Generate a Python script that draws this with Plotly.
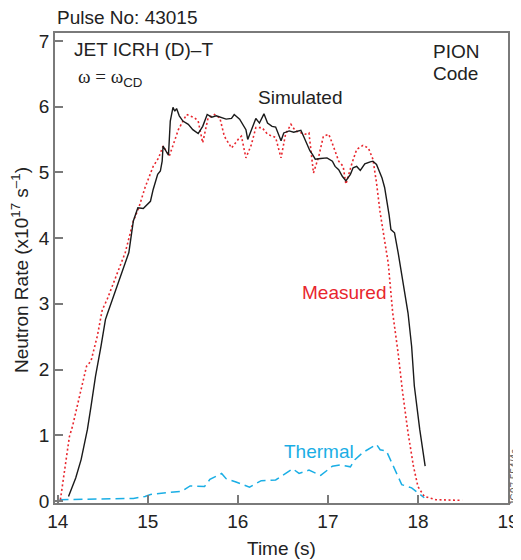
import plotly.graph_objects as go

# ---- data ----
t_sim = [14.12, 14.20, 14.26, 14.33, 14.37, 14.42, 14.48, 14.53, 14.55, 14.61, 14.68, 14.79, 14.84, 14.89,
         14.95, 15.03, 15.06, 15.08, 15.11, 15.14, 15.16, 15.17, 15.23, 15.25, 15.28, 15.30, 15.32, 15.35,
         15.39, 15.45, 15.50, 15.56, 15.61, 15.66, 15.71, 15.76, 15.82, 15.87, 15.93, 15.96, 16.02, 16.07,
         16.09, 16.11, 16.15, 16.20, 16.24, 16.29, 16.33, 16.38, 16.42, 16.48, 16.51, 16.57, 16.62, 16.70,
         16.73, 16.77, 16.80, 16.83, 16.86, 16.92, 16.99, 17.05, 17.08, 17.12, 17.16, 17.20, 17.25, 17.28,
         17.32, 17.36, 17.41, 17.47, 17.50, 17.54, 17.60, 17.63, 17.66, 17.68, 17.70, 17.74, 17.78, 17.83,
         17.89, 17.93, 17.96, 18.02, 18.08]
v_sim = [0.07, 0.35, 0.63, 1.09, 1.44, 1.90, 2.35, 2.76, 2.84, 3.07, 3.37, 3.78, 4.26, 4.46,
         4.45, 4.56, 4.74, 4.82, 4.97, 5.02, 5.17, 5.40, 5.26, 5.78, 5.99, 5.93, 5.97, 5.86,
         5.78, 5.73, 5.65, 5.59, 5.70, 5.88, 5.84, 5.86, 5.83, 5.81, 5.82, 5.88, 5.81, 5.69,
         5.65, 5.50, 5.65, 5.82, 5.75, 5.89, 5.75, 5.70, 5.69, 5.48, 5.60, 5.63, 5.61, 5.64,
         5.55, 5.42, 5.33, 5.27, 5.20, 5.21, 5.22, 5.17, 5.09, 5.04, 4.94, 4.87, 4.97, 5.07,
         5.09, 5.03, 5.13, 5.16, 5.17, 5.12, 4.92, 4.77, 4.55, 4.35, 4.13, 4.08, 3.78, 3.37,
         2.86, 2.35, 1.75, 1.09, 0.53]

t_meas = [14.03, 14.13, 14.165, 14.32, 14.37, 14.44, 14.495, 14.55, 14.75, 14.84, 14.90, 14.97, 15.06,
          15.12, 15.17, 15.24, 15.34, 15.43, 15.52, 15.56, 15.61, 15.67, 15.74, 15.80, 15.85, 15.93,
          16.02, 16.04, 16.09, 16.15, 16.20, 16.27, 16.33, 16.42, 16.48, 16.53, 16.59, 16.64, 16.75,
          16.79, 16.84, 16.90, 16.95, 17.01, 17.06, 17.12, 17.17, 17.20, 17.27, 17.32, 17.39, 17.45,
          17.50, 17.54, 17.58, 17.67, 17.72, 17.78, 17.83, 17.89, 17.95, 18.00, 18.07, 18.20, 18.49]
v_meas = [0.02, 0.98, 1.14, 2.05, 2.13, 2.51, 2.91, 3.07, 3.78, 4.26, 4.46, 4.77, 5.09,
          5.22, 5.40, 5.25, 5.65, 5.88, 5.83, 5.78, 5.45, 5.83, 5.88, 5.83, 5.55, 5.37,
          5.53, 5.55, 5.22, 5.42, 5.68, 5.68, 5.58, 5.53, 5.22, 5.58, 5.73, 5.63, 5.58,
          5.60, 4.99, 5.25, 5.55, 5.58, 5.40, 5.17, 5.09, 4.82, 5.15, 5.35, 5.41, 5.37,
          5.20, 4.84, 4.39, 3.62, 2.86, 2.25, 1.65, 1.04, 0.53, 0.22, 0.07, 0.02, 0.01]

t_th = [14.02, 14.84, 14.97, 15.03, 15.38, 15.47, 15.63, 15.69, 15.82, 15.87, 15.98, 16.13, 16.26, 16.42,
        16.61, 16.68, 16.79, 16.92, 17.05, 17.14, 17.25, 17.30, 17.39, 17.54, 17.58, 17.65, 17.82,
        17.93, 18.07]
v_th = [0.02, 0.04, 0.07, 0.10, 0.15, 0.23, 0.22, 0.33, 0.42, 0.34, 0.29, 0.21, 0.31, 0.32,
        0.49, 0.42, 0.47, 0.39, 0.53, 0.55, 0.52, 0.63, 0.74, 0.86, 0.78, 0.76, 0.25,
        0.20, 0.05]

x_ticks = [14, 15, 16, 17, 18, 19]
y_ticks = [0, 1, 2, 3, 4, 5, 6, 7]

FONT = "Liberation Sans, Arial, Helvetica, sans-serif"
TXT = "#222222"
RED = "#e8262d"
BLUE = "#1aaee5"
AX = "#7a7a7a"
FS = 19

fig = go.Figure()
fig.add_trace(go.Scatter(x=t_th, y=v_th, mode="lines",
                         line=dict(color=BLUE, width=1.5, dash="9px,5px")))
fig.add_trace(go.Scatter(x=t_meas, y=v_meas, mode="lines",
                         line=dict(color=RED, width=1.6, dash="2px,2.5px")))
fig.add_trace(go.Scatter(x=t_sim, y=v_sim, mode="lines",
                         line=dict(color="#1a1a1a", width=1.4)))

axis_common = dict(showgrid=False, zeroline=False, showline=True, linecolor=AX, linewidth=1.8,
                   mirror=True, ticks="inside", ticklen=8, tickwidth=1.5, tickcolor=AX,
                   ticklabeloverflow="allow",
                   tickfont=dict(family=FONT, size=FS, color=TXT))

# page body has an 8px default margin: the figure is sized to fit the 521x560 window
fig.update_layout(
    width=513, height=552,
    margin=dict(l=47, r=2, t=25, b=57),
    paper_bgcolor="white", plot_bgcolor="white",
    showlegend=False,
    font=dict(family=FONT, size=FS, color=TXT),
    xaxis=dict(range=[13.97, 19.0], tickvals=x_ticks, **axis_common),
    yaxis=dict(range=[-0.03, 7.12], tickvals=y_ticks, **axis_common),
)

ann = [
    dict(text="Pulse No: 43015", x=0.0, y=1.032, xanchor="left", yanchor="middle"),
    dict(text="JET ICRH (D)–T", x=0.037, y=0.964, xanchor="left", yanchor="middle"),
    dict(text="<span style='font-family:Liberation Serif, Times New Roman, serif'>ω = ω</span><sub>CD</sub>",
         x=0.047, y=0.905, xanchor="left", yanchor="middle"),
    dict(text="PION", x=0.829, y=0.96, xanchor="left", yanchor="middle"),
    dict(text="Code", x=0.829, y=0.914, xanchor="left", yanchor="middle"),
    dict(text="Simulated", x=0.541, y=0.862, xanchor="center", yanchor="middle"),
    dict(text="Measured", x=0.640, y=0.447, xanchor="center", yanchor="middle", font=dict(color=RED)),
    dict(text="Thermal", x=0.583, y=0.109, xanchor="center", yanchor="middle", font=dict(color=BLUE)),
    dict(text="Time (s)", x=0.5, y=-0.096, xanchor="center", yanchor="middle"),
    dict(text="Neutron Rate (x10<sup>17</sup> s<sup>–1</sup>)", x=-0.077, y=0.496,
         xanchor="center", yanchor="middle", textangle=-90),
    dict(text="JG97.554/4c", x=1.0145, y=0.055, xanchor="center", yanchor="middle", textangle=-90,
         font=dict(size=10, color="#555555")),
]
for a in ann:
    f = dict(family=FONT, size=FS, color=TXT)
    f.update(a.pop("font", {}))
    fig.add_annotation(xref="paper", yref="paper", showarrow=False, font=f, **a)

fig.write_html("out.html")
